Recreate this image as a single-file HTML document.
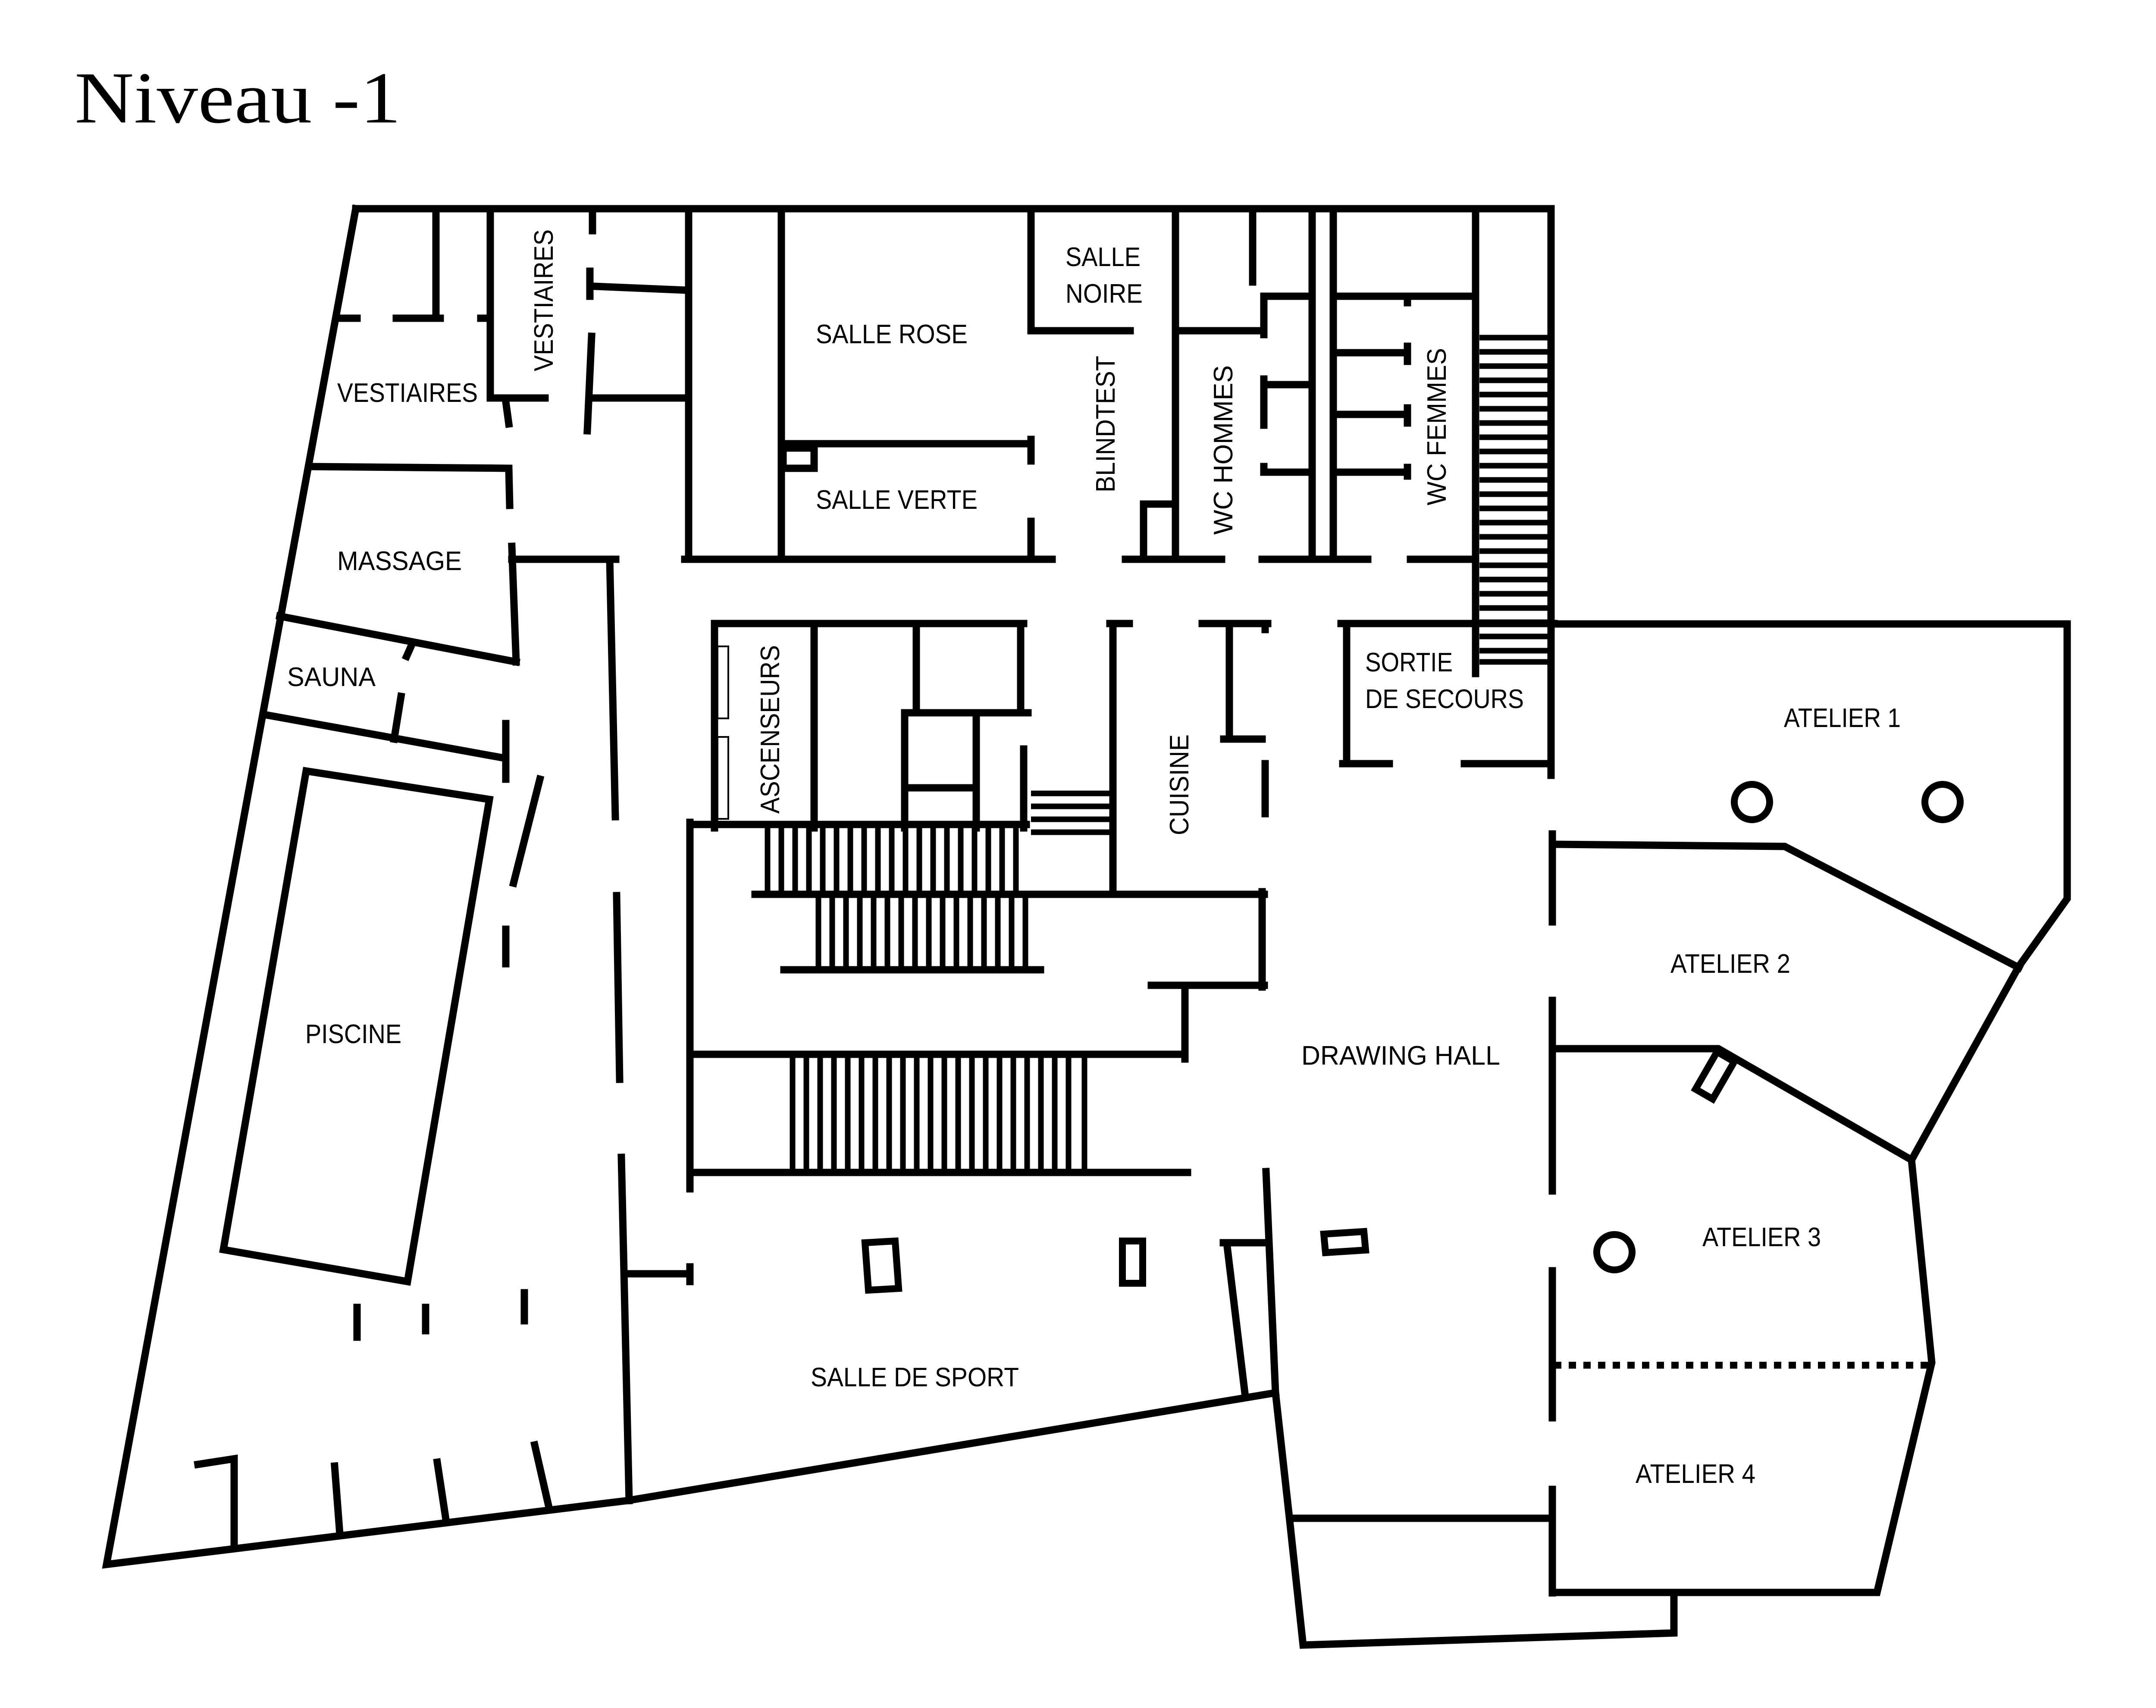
<!DOCTYPE html>
<html><head><meta charset="utf-8"><style>
html,body{margin:0;padding:0;background:#fff;}
svg{display:block;}
text{font-family:"Liberation Sans",sans-serif;font-size:62px;fill:#000;}
</style></head><body>
<svg width="5209" height="3961" viewBox="0 0 5209 3961" xmlns="http://www.w3.org/2000/svg">
<rect width="5209" height="3961" fill="#fff"/>
<text x="173" y="284" textLength="757" lengthAdjust="spacingAndGlyphs" style="font-family:'Liberation Serif',serif;font-size:170px">Niveau -1</text>
<g stroke="#000" stroke-width="17" fill="none" stroke-linecap="square">
<!-- outer -->
<polyline points="825,484 3597,484 3597,1798"/>
<polyline points="825,484 247,3628 1455,3480 2958,3230"/>
<polyline points="3604,1447 4794,1447 4794,2084 4682,2241 4433,2690 4480,3160 4353,3693 3600,3693"/>
<polyline points="3000,3521 3596,3521"/>
<polyline points="2936,2717 2958,3230 2991,3527 3022,3815 3882,3787 3882,3694"/>
<polyline points="3604,1958 4139,1963 4682,2244"/>
<polyline points="3604,2432 3985,2432 4433,2690"/>
<line x1="3600" y1="1934" x2="3600" y2="2138"/>
<line x1="3600" y1="2320" x2="3600" y2="2762"/>
<line x1="3600" y1="2947" x2="3600" y2="3288"/>
<line x1="3600" y1="3454" x2="3600" y2="3694"/>
<!-- top-left rooms -->
<line x1="1011" y1="484" x2="1011" y2="738"/>
<line x1="789" y1="738" x2="828" y2="738"/>
<line x1="919" y1="738" x2="1021" y2="738"/>
<line x1="1115" y1="738" x2="1137" y2="738"/>
<polyline points="1137,484 1137,923 1264,923"/>
<line x1="1374" y1="484" x2="1374" y2="535"/>
<line x1="1368" y1="629" x2="1368" y2="687"/>
<line x1="1372" y1="780" x2="1362" y2="999"/>
<line x1="1379" y1="664" x2="1593" y2="673"/>
<line x1="1370" y1="923" x2="1593" y2="923"/>
<line x1="1173" y1="932" x2="1180" y2="983"/>
<polyline points="722,1082 1180,1086 1182,1172"/>
<line x1="1187" y1="1267" x2="1197" y2="1535"/>
<line x1="649" y1="1429" x2="1197" y2="1535"/>
<line x1="955" y1="1495" x2="943" y2="1522"/>
<line x1="930" y1="1615" x2="914" y2="1714"/>
<line x1="612" y1="1657" x2="1169" y2="1758"/>
<line x1="1173" y1="1678" x2="1173" y2="1807"/>
<line x1="1187" y1="1297" x2="1428" y2="1297"/>
<line x1="1414" y1="1297" x2="1427" y2="1894"/>
<line x1="1430" y1="2077" x2="1437" y2="2503"/>
<line x1="1441" y1="2684" x2="1459" y2="3480"/>
<line x1="1450" y1="2954" x2="1600" y2="2954"/>
<line x1="1600" y1="2938" x2="1600" y2="2972"/>
<polygon points="710,1788 1135,1854 945,2972 518,2898"/>
<line x1="1252" y1="1807" x2="1191" y2="2048"/>
<line x1="1173" y1="2155" x2="1173" y2="2235"/>
<line x1="828" y1="3032" x2="828" y2="3101"/>
<line x1="987" y1="3032" x2="987" y2="3086"/>
<line x1="1216" y1="2998" x2="1216" y2="3063"/>
<polyline points="459,3396 543,3383 543,3588"/>
<line x1="776" y1="3400" x2="788" y2="3557"/>
<line x1="1014" y1="3391" x2="1035" y2="3530"/>
<line x1="1240" y1="3351" x2="1274" y2="3500"/>
<!-- top rooms -->
<line x1="1597" y1="484" x2="1597" y2="1297"/>
<line x1="1812" y1="484" x2="1812" y2="1297"/>
<line x1="1588" y1="1297" x2="2440" y2="1297"/>
<line x1="2610" y1="1297" x2="2833" y2="1297"/>
<line x1="2927" y1="1297" x2="3172" y2="1297"/>
<line x1="3271" y1="1297" x2="3422" y2="1297"/>
<line x1="1812" y1="1029" x2="2391" y2="1029"/>
<rect x="1816" y="1039" width="72" height="47"/>
<line x1="2391" y1="484" x2="2391" y2="767"/>
<line x1="2391" y1="767" x2="2621" y2="767"/>
<line x1="2391" y1="1019" x2="2391" y2="1069"/>
<line x1="2391" y1="1209" x2="2391" y2="1297"/>
<line x1="2726" y1="484" x2="2726" y2="1297"/>
<polyline points="2652,1289 2652,1169 2726,1169"/>
<line x1="2726" y1="767" x2="2927" y2="767"/>
<line x1="2905" y1="484" x2="2905" y2="654"/>
<polyline points="2931,776 2931,687 3038,687"/>
<polyline points="2931,986 2931,892 3038,892"/>
<line x1="2931" y1="879" x2="2931" y2="892"/>
<polyline points="2931,1082 2931,1095 3038,1095"/>
<line x1="3043" y1="484" x2="3043" y2="1297"/>
<line x1="3092" y1="484" x2="3092" y2="1297"/>
<line x1="3092" y1="687" x2="3422" y2="687"/>
<line x1="3264" y1="689" x2="3264" y2="702"/>
<line x1="3097" y1="818" x2="3264" y2="818"/>
<line x1="3264" y1="803" x2="3264" y2="838"/>
<line x1="3097" y1="961" x2="3264" y2="961"/>
<line x1="3264" y1="946" x2="3264" y2="981"/>
<line x1="3097" y1="1095" x2="3264" y2="1095"/>
<line x1="3264" y1="1084" x2="3264" y2="1104"/>
<line x1="3422" y1="484" x2="3422" y2="1562"/>
<!-- central -->
<polyline points="1657,1920 1657,1446 2374,1446"/>
<line x1="1888" y1="1446" x2="1888" y2="1920"/>
<line x1="2125" y1="1446" x2="2125" y2="1653"/>
<line x1="2367" y1="1446" x2="2367" y2="1653"/>
<line x1="2098" y1="1653" x2="2384" y2="1653"/>
<line x1="2098" y1="1653" x2="2098" y2="1920"/>
<line x1="2264" y1="1653" x2="2264" y2="1920"/>
<line x1="2098" y1="1827" x2="2264" y2="1827"/>
<line x1="2374" y1="1737" x2="2374" y2="1920"/>
<line x1="1600" y1="1912" x2="2380" y2="1912"/>
<line x1="1600" y1="1907" x2="1600" y2="2757"/>
<line x1="1751" y1="2074" x2="2932" y2="2074"/>
<line x1="1818" y1="2249" x2="2413" y2="2249"/>
<line x1="1600" y1="2445" x2="2748" y2="2445"/>
<line x1="1600" y1="2719" x2="2754" y2="2719"/>
<line x1="2574" y1="1446" x2="2619" y2="1446"/>
<line x1="2581" y1="1446" x2="2581" y2="2074"/>
<line x1="2788" y1="1446" x2="2940" y2="1446"/>
<polyline points="2851,1446 2851,1714"/>
<line x1="2838" y1="1714" x2="2927" y2="1714"/>
<line x1="2934" y1="1446" x2="2934" y2="1460"/>
<line x1="2934" y1="1771" x2="2934" y2="1887"/>
<line x1="2927" y1="2068" x2="2927" y2="2289"/>
<line x1="2670" y1="2285" x2="2932" y2="2285"/>
<line x1="2748" y1="2285" x2="2748" y2="2456"/>
<line x1="3110" y1="1446" x2="3604" y2="1446"/>
<line x1="3123" y1="1446" x2="3123" y2="1771"/>
<line x1="3114" y1="1771" x2="3222" y2="1771"/>
<line x1="3396" y1="1771" x2="3597" y2="1771"/>
<line x1="2837" y1="2882" x2="2936" y2="2882"/>
<line x1="2846" y1="2891" x2="2888" y2="3239"/>
</g>
<!-- stairs -->
<g stroke="#000" stroke-width="13">
<path d="M3431 783H3592M3431 816H3592M3431 849H3592M3431 882H3592M3431 915H3592M3431 948H3592M3431 981H3592M3431 1014H3592M3431 1047H3592M3431 1080H3592M3431 1113H3592M3431 1146H3592M3431 1179H3592M3431 1212H3592M3431 1245H3592M3431 1278H3592M3431 1311H3592M3431 1344H3592M3431 1377H3592M3431 1410H3592M3431 1443H3592M3431 1476H3592M3431 1509H3592M3431 1535H3592"/>
<path d="M1780 1914V2068M1812 1914V2068M1844 1914V2068M1876 1914V2068M1908 1914V2068M1940 1914V2068M1972 1914V2068M2004 1914V2068M2036 1914V2068M2068 1914V2068M2100 1914V2068M2132 1914V2068M2164 1914V2068M2196 1914V2068M2228 1914V2068M2260 1914V2068M2292 1914V2068M2324 1914V2068M2356 1914V2068"/>
<path d="M1898 2081V2249M1930 2081V2249M1962 2081V2249M1994 2081V2249M2026 2081V2249M2058 2081V2249M2090 2081V2249M2122 2081V2249M2154 2081V2249M2186 2081V2249M2218 2081V2249M2250 2081V2249M2282 2081V2249M2314 2081V2249M2346 2081V2249M2378 2081V2249"/>
<path d="M1838 2452V2717M1870 2452V2717M1902 2452V2717M1934 2452V2717M1966 2452V2717M1998 2452V2717M2030 2452V2717M2062 2452V2717M2094 2452V2717M2126 2452V2717M2158 2452V2717M2190 2452V2717M2222 2452V2717M2254 2452V2717M2286 2452V2717M2318 2452V2717M2350 2452V2717M2382 2452V2717M2414 2452V2717M2446 2452V2717M2478 2452V2717M2515 2452V2717"/>
<path d="M2391 1840H2575M2391 1870H2575M2391 1900H2575M2391 1930H2575"/>
</g>
<g stroke="#000" stroke-width="4" fill="none">
<rect x="1664" y="1499" width="25" height="167"/>
<rect x="1664" y="1709" width="25" height="190"/>
</g>
<g stroke="#000" stroke-width="16" fill="none">
<polygon points="2006,2882 2076,2878 2084,2988 2014,2992"/>
<rect x="2603" y="2878" width="47" height="98"/>
<polygon points="3070,2862 3163,2856 3167,2899 3074,2905"/>
<rect x="-23" y="-50" width="46" height="100" transform="translate(3977,2494) rotate(30)"/>
<circle cx="4063" cy="1860" r="41"/>
<circle cx="4505" cy="1860" r="41"/>
<circle cx="3744" cy="2904" r="41"/>
<line x1="3604" y1="3166" x2="4480" y2="3166" stroke-dasharray="17,17"/>
</g>
<g>
<text x="782" y="932" textLength="326" lengthAdjust="spacingAndGlyphs">VESTIAIRES</text>
<text transform="translate(1282,861) rotate(-90)" x="0" y="0" textLength="329" lengthAdjust="spacingAndGlyphs">VESTIAIRES</text>
<text x="1892" y="796" textLength="352" lengthAdjust="spacingAndGlyphs">SALLE ROSE</text>
<text x="1892" y="1180" textLength="375" lengthAdjust="spacingAndGlyphs">SALLE VERTE</text>
<text x="2471" y="617" textLength="174" lengthAdjust="spacingAndGlyphs">SALLE</text>
<text x="2471" y="702" textLength="179" lengthAdjust="spacingAndGlyphs">NOIRE</text>
<text transform="translate(2585,1142) rotate(-90)" x="0" y="0" textLength="317" lengthAdjust="spacingAndGlyphs">BLINDTEST</text>
<text transform="translate(2858,1240) rotate(-90)" x="0" y="0" textLength="393" lengthAdjust="spacingAndGlyphs">WC HOMMES</text>
<text transform="translate(3353,1172) rotate(-90)" x="0" y="0" textLength="365" lengthAdjust="spacingAndGlyphs">WC FEMMES</text>
<text x="782" y="1322" textLength="289" lengthAdjust="spacingAndGlyphs">MASSAGE</text>
<text x="666" y="1591" textLength="205" lengthAdjust="spacingAndGlyphs">SAUNA</text>
<text transform="translate(1807,1887) rotate(-90)" x="0" y="0" textLength="391" lengthAdjust="spacingAndGlyphs">ASCENSEURS</text>
<text transform="translate(2756,1937) rotate(-90)" x="0" y="0" textLength="234" lengthAdjust="spacingAndGlyphs">CUISINE</text>
<text x="3166" y="1557" textLength="203" lengthAdjust="spacingAndGlyphs">SORTIE</text>
<text x="3166" y="1642" textLength="368" lengthAdjust="spacingAndGlyphs">DE SECOURS</text>
<text x="4137" y="1686" textLength="271" lengthAdjust="spacingAndGlyphs">ATELIER 1</text>
<text x="3874" y="2256" textLength="278" lengthAdjust="spacingAndGlyphs">ATELIER 2</text>
<text x="3948" y="2890" textLength="275" lengthAdjust="spacingAndGlyphs">ATELIER 3</text>
<text x="3793" y="3439" textLength="278" lengthAdjust="spacingAndGlyphs">ATELIER 4</text>
<text x="3018" y="2469" textLength="461" lengthAdjust="spacingAndGlyphs">DRAWING HALL</text>
<text x="708" y="2419" textLength="223" lengthAdjust="spacingAndGlyphs">PISCINE</text>
<text x="1880" y="3215" textLength="483" lengthAdjust="spacingAndGlyphs">SALLE DE SPORT</text>
</g>
</svg>
</body></html>
